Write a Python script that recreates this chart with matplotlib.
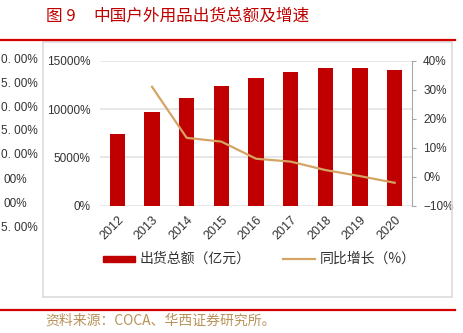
import matplotlib
matplotlib.use("Agg")
import matplotlib.pyplot as plt
from matplotlib.lines import Line2D
from matplotlib.patches import Rectangle
from matplotlib.ticker import FuncFormatter

plt.rcParams['font.family'] = ['Noto Sans CJK SC', 'DejaVu Sans']

years = ['2012', '2013', '2014', '2015', '2016', '2017', '2018', '2019', '2020']
shipments = [7450, 9700, 11100, 12350, 13200, 13850, 14200, 14200, 14000]
growth_years = ['2013', '2014', '2015', '2016', '2017', '2018', '2019', '2020']
growth = [31.0, 13.4, 12.1, 6.2, 5.2, 2.3, 0.2, -2.1]
left_ticks = [0, 5000, 10000, 15000]
right_ticks = [-10, 0, 10, 20, 30, 40]
side_labels = ['0. 00%', '5. 00%', '0. 00%', '5. 00%', '0. 00%', '00%', '00%', '5. 00%']

W, H = 463, 333
fig = plt.figure(figsize=(W / 100, H / 100), dpi=100)
fig.patch.set_facecolor('white')

def px(x, y):
    return x / W, 1 - y / H

RED = '#c00000'
TAN = '#d4a464'
GRID = '#e3e3e3'
TXT = '#333333'
NUM = ['Liberation Sans', 'DejaVu Sans']

# Title
fig.text(*px(46, 17), '图 9', color=RED, fontsize=12, ha='left', va='center')
fig.text(*px(93, 17), '中国户外用品出货总额及增速', color=RED, fontsize=12,
         ha='left', va='center')
# red rules
fig.add_artist(Line2D([0, 455 / W], [1 - 39.5 / H] * 2, color='#d40000', lw=1.6))
fig.add_artist(Line2D([0, 455 / W], [1 - 310 / H] * 2, color='#d40000', lw=1.6))
# chart box
x0, y0 = px(43, 297)
x1, y1 = px(452, 42)
fig.add_artist(Rectangle((x0, y0), x1 - x0, y1 - y0, fill=False, ec='#dcdcdc', lw=1.2))

# neighbouring chart fragments
ys = [60, 84, 108, 131, 155, 180, 204, 228]
for lab, yy in zip(side_labels, ys):
    xl = 3 if lab == '00%' else 1
    fig.text(*px(xl, yy), lab, color=TXT, fontsize=8.5, ha='left', va='center',
             family=NUM)

# source
fig.text(*px(45, 321), '资料来源：COCA、华西证券研究所。', color='#b8925a', fontsize=10,
         ha='left', va='center')

# axes
ax = fig.add_axes([100 / W, 1 - 205.7 / H, (412 - 100) / W, 145 / H])
xs = list(range(len(years)))
ax.bar(xs, shipments, width=0.44, color=RED, zorder=3)
ax.set_xlim(-0.5, len(years) - 0.5)
ax.set_ylim(0, 15000)
ax.set_yticks(left_ticks)
ax.yaxis.set_major_formatter(FuncFormatter(lambda v, p: f'{int(v)}%'))
ax.grid(axis='y', color=GRID, lw=1.2, zorder=0)
ax.set_axisbelow(True)
for s in ax.spines.values():
    s.set_visible(False)
ax.tick_params(axis='y', length=0, pad=7, labelsize=8.5, labelcolor=TXT)
ax.set_xticks(xs)
ax.set_xticklabels(years, rotation=45, ha='right', rotation_mode='anchor')
ax.tick_params(axis='x', length=0, pad=6, labelsize=9, labelcolor=TXT)
for t in ax.get_xticklabels() + ax.get_yticklabels():
    t.set_family(NUM)

ax2 = ax.twinx()
gx = [years.index(y) for y in growth_years]
ax2.plot(gx, growth, color=TAN, lw=1.6, zorder=4)
ax2.set_ylim(-10, 40)
ax2.set_yticks(right_ticks)
ax2.yaxis.set_major_formatter(FuncFormatter(lambda v, p: f'{int(v)}%'.replace('-', '\u2212')))
for k, s in ax2.spines.items():
    s.set_visible(k == 'right')
ax2.spines['right'].set_color('#a6a6a6')
ax2.tick_params(axis='y', length=3, color='#a6a6a6', pad=5, labelsize=8.5, labelcolor=TXT)
for t in ax2.get_yticklabels():
    t.set_family(NUM)

# legend
fig.add_artist(Rectangle(px(103, 262), 32 / W, 6 / H, color=RED))
fig.text(*px(140, 259), '出货总额（亿元）', color=TXT, fontsize=10, ha='left', va='center')
fig.add_artist(Line2D([283 / W, 315 / W], [1 - 259 / H] * 2, color=TAN, lw=1.6))
fig.text(*px(320, 259), '同比增长（%）', color=TXT, fontsize=10, ha='left', va='center')

fig.savefig('out.png', dpi=100, facecolor='white')
